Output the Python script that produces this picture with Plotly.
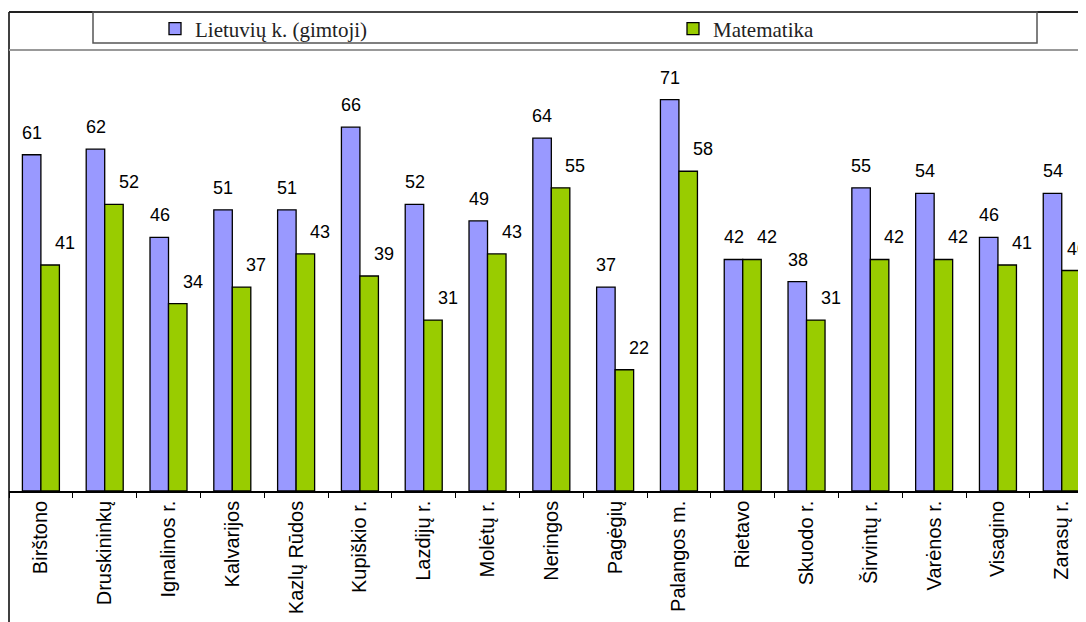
import plotly.graph_objects as go

categories = ["Birštono", "Druskininkų", "Ignalinos r.", "Kalvarijos", "Kazlų Rūdos",
              "Kupiškio r.", "Lazdijų r.", "Molėtų r.", "Neringos", "Pagėgių",
              "Palangos m.", "Rietavo", "Skuodo r.", "Širvintų r.", "Varėnos r.",
              "Visagino", "Zarasų r."]
lietuviu = [61, 62, 46, 51, 51, 66, 52, 49, 64, 37, 71, 42, 38, 55, 54, 46, 54]
matematika = [41, 52, 34, 37, 43, 39, 31, 43, 55, 22, 58, 42, 31, 42, 42, 41, 40]
series_names = ["Lietuvių k. (gimtoji)", "Matematika"]

# page has an 8px body margin; work in screen pixels and convert
OFF = 8
SCREEN_W, SCREEN_H = 1086, 622
W, H = SCREEN_W - OFF, SCREEN_H - OFF
PLOT_L, PLOT_R, PLOT_T, PLOT_B = 9, 1086, 50, 491  # screen px
ML, MR, MT, MB = PLOT_L - OFF, SCREEN_W - PLOT_R, PLOT_T - OFF, SCREEN_H - PLOT_B
PW, PH = PLOT_R - PLOT_L, PLOT_B - PLOT_T
X_RANGE = [-0.5, 16.38]


def px_x(p):
    return (p - PLOT_L) / PW


def px_y(p):
    return 1 - (p - PLOT_T) / PH


fig = go.Figure()
fig.add_trace(go.Bar(x=categories, y=lietuviu, name=series_names[0],
                     marker=dict(color="#9999FF", line=dict(color="black", width=1.3)),
                     legend="legend"))
fig.add_trace(go.Bar(x=categories, y=matematika, name=series_names[1],
                     marker=dict(color="#99CC00", line=dict(color="black", width=1.3)),
                     legend="legend2"))

label_font = dict(family="Liberation Sans, Arial", size=18, color="black")
px_per_cat = PW / (X_RANGE[1] - X_RANGE[0])
annotations = []
for c, v in zip(categories, lietuviu):
    annotations.append(dict(x=c, y=v, xref="x", yref="y", text=str(v), showarrow=False,
                            yanchor="bottom", yshift=10, xshift=-9, font=label_font))
for i, (c, v) in enumerate(zip(categories, matematika)):
    # keep the label inside the page at the right edge
    center_px = PLOT_L + (i - X_RANGE[0]) * px_per_cat
    label_w = 10 * len(str(v))
    shift = 12
    if center_px + shift + label_w > SCREEN_W:
        shift = SCREEN_W - label_w - center_px - 1
    annotations.append(dict(x=c, y=v, xref="x", yref="y", text=str(v), showarrow=False,
                            yanchor="bottom", xanchor="left", yshift=10, xshift=shift,
                            font=label_font))

shapes = [
    # outer frame: left and top
    dict(type="line", xref="paper", yref="paper", x0=0, x1=0, y0=px_y(640), y1=px_y(12),
         line=dict(color="black", width=1.5)),
    dict(type="line", xref="paper", yref="paper", x0=0, x1=px_x(1100), y0=px_y(12), y1=px_y(12),
         line=dict(color="#222222", width=2)),
    # plot area top line
    dict(type="line", xref="paper", yref="paper", x0=0, x1=px_x(1100), y0=px_y(50), y1=px_y(50),
         line=dict(color="#999999", width=2)),
    # legend box
    dict(type="rect", xref="paper", yref="paper", x0=px_x(93), x1=px_x(1037), y0=px_y(43), y1=px_y(12),
         line=dict(color="#555555", width=1.5), fillcolor="rgba(0,0,0,0)"),
]

legend_font = dict(family="Liberation Serif, Times New Roman, serif", size=21, color="#222222")

fig.update_layout(
    width=W, height=H,
    margin=dict(l=ML, r=MR, t=MT, b=MB, pad=0),
    paper_bgcolor="white", plot_bgcolor="white",
    barmode="group", bargap=0.42, bargroupgap=0,
    showlegend=True,
    legend=dict(orientation="h", x=px_x(155), y=px_y(29), xanchor="left", yanchor="middle",
                font=legend_font, bgcolor="rgba(0,0,0,0)", borderwidth=0),
    legend2=dict(orientation="h", x=px_x(673), y=px_y(29), xanchor="left", yanchor="middle",
                 font=legend_font, bgcolor="rgba(0,0,0,0)", borderwidth=0),
    xaxis=dict(range=X_RANGE, showline=True, linecolor="black", linewidth=1.5,
               ticks="outside", tickson="boundaries", ticklen=5, tickcolor="black", tickwidth=1.3,
               tickangle=-90, showgrid=False, zeroline=False,
               tickfont=dict(family="Liberation Sans, Arial", size=20, color="black")),
    yaxis=dict(range=[0, 80], showticklabels=False, showgrid=False, zeroline=False,
               showline=False, ticks=""),
    annotations=annotations,
    shapes=shapes,
)

fig.write_html("out.html")
